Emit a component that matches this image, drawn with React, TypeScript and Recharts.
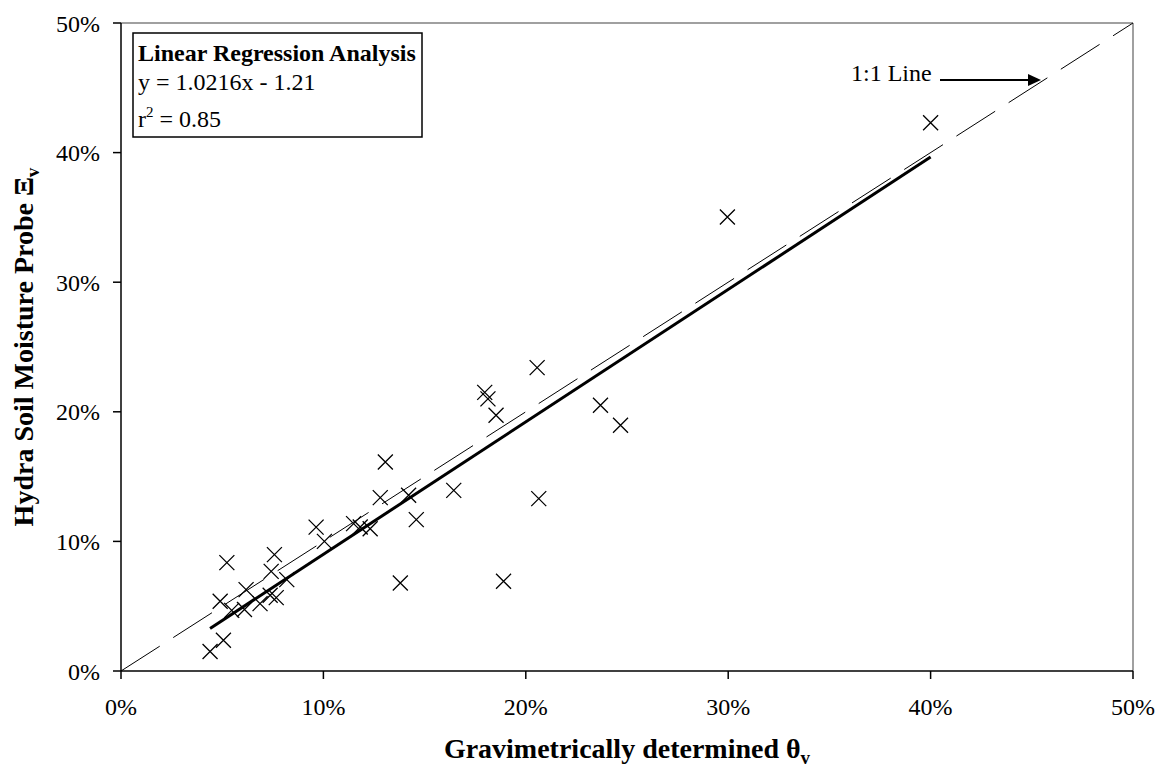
import React from 'react';
import { ScatterChart, Scatter, XAxis, YAxis, ReferenceLine } from 'recharts';

// gravimetric theta_v (%) vs Hydra probe reading (%)
const gravimetric = [
  4.4, 5.06, 4.9, 5.23, 5.47, 6.1, 6.18, 6.87, 7.37, 7.67, 7.42, 7.58, 8.19,
  9.64, 10.05, 11.49, 11.82, 12.31, 12.81, 13.06, 13.8, 14.21, 14.59, 16.44,
  17.97, 18.13, 18.53, 18.9, 20.56, 20.64, 23.69, 24.68, 29.96, 40.0,
];
const hydraProbe = [
  1.5, 2.37, 5.38, 8.36, 4.68, 4.74, 6.28, 5.2, 5.84, 5.66, 7.69, 8.98, 7.05,
  11.1, 10.0, 11.37, 11.11, 10.98, 13.38, 16.13, 6.79, 13.56, 11.68, 13.94,
  21.5, 21.0, 19.73, 6.92, 23.41, 13.3, 20.5, 18.96, 35.03, 42.3,
];
const axisTicks = [0, 10, 20, 30, 40, 50];

// regression from the text box
const fitSlope = 1.0216;
const fitIntercept = -1.21;
const fitRange = [4.4, 40];
const identityRange = [0, 50];

const points = gravimetric.map((x, i) => ({ x, y: hydraProbe[i] }));
const fitLine = fitRange.map((x) => ({ x, y: fitSlope * x + fitIntercept }));
const identityLine = identityRange.map((x) => ({ x, y: x }));

const serif = 'Liberation Serif, Times New Roman, serif';

const CrossMark = (props: any) => {
  const { cx, cy } = props;
  const s = 7.5;
  return (
    <path
      d={`M${cx - s},${cy - s}L${cx + s},${cy + s}M${cx - s},${cy + s}L${cx + s},${cy - s}`}
      stroke="#000"
      strokeWidth={1.3}
      fill="none"
    />
  );
};

const NoMark = () => <g />;

const XTitle = ({ viewBox }: any) => {
  const cx = viewBox.x + viewBox.width / 2;
  return (
    <text x={cx} y={viewBox.y + 87} textAnchor="middle" fontFamily={serif} fontSize={28} fontWeight="bold" fill="#000">
      Gravimetrically determined θ<tspan dy={6} fontSize={19}>v</tspan>
    </text>
  );
};

const YTitle = ({ viewBox }: any) => {
  const cx = viewBox.x + 33;
  const cy = viewBox.y + viewBox.height / 2;
  return (
    <text x={cx} y={cy} transform={`rotate(-90, ${cx}, ${cy})`} textAnchor="middle" fontFamily={serif} fontSize={28} fontWeight="bold" fill="#000">
      Hydra Soil Moisture Probe Ξ<tspan dy={6} fontSize={19}>v</tspan>
    </text>
  );
};

const tickStyle = { fill: '#000', fontSize: 24, fontFamily: serif };

export default function App() {
  return (
    <div style={{ position: 'absolute', left: 0, top: 0, width: 1160, height: 767, background: '#fff' }}>
      <ScatterChart width={1160} height={767} margin={{ top: 23, right: 27, left: 0, bottom: 0 }}>
        <XAxis
          type="number"
          dataKey="x"
          domain={[0, 50]}
          ticks={axisTicks}
          tickFormatter={(v) => `${v}%`}
          height={96}
          tickSize={8}
          tickMargin={19}
          tick={tickStyle}
          stroke="#000"
          strokeWidth={1.5}
          label={<XTitle />}
        />
        <YAxis
          type="number"
          dataKey="y"
          domain={[0, 50]}
          ticks={axisTicks}
          tickFormatter={(v) => `${v}%`}
          width={121}
          tickSize={8}
          tickMargin={13}
          tick={tickStyle}
          stroke="#000"
          strokeWidth={1.5}
          label={<YTitle />}
        />
        <ReferenceLine y={50} stroke="#808080" strokeWidth={1.5} />
        <ReferenceLine x={50} stroke="#808080" strokeWidth={1.5} />
        <Scatter
          data={identityLine}
          line={{ stroke: '#000', strokeWidth: 1, strokeDasharray: '46 16' }}
          shape={NoMark}
          isAnimationActive={false}
        />
        <Scatter
          data={fitLine}
          line={{ stroke: '#000', strokeWidth: 3 }}
          shape={NoMark}
          isAnimationActive={false}
        />
        <Scatter data={points} shape={CrossMark} isAnimationActive={false} />
      </ScatterChart>
      <svg width={1160} height={767} style={{ position: 'absolute', left: 0, top: 0, pointerEvents: 'none' }}>
        <rect x={133} y={33} width={289} height={104} fill="#fff" stroke="#000" strokeWidth={1.5} />
        <text x={138} y={60.5} fontFamily={serif} fontSize={24} fontWeight="bold" fill="#000">
          Linear Regression Analysis
        </text>
        <text x={138} y={90} fontFamily={serif} fontSize={24} fill="#000">
          y = 1.0216x - 1.21
        </text>
        <text x={138} y={126.5} fontFamily={serif} fontSize={24} fill="#000">
          r<tspan dy={-10} fontSize={15}>2</tspan>
          <tspan dy={10}> = 0.85</tspan>
        </text>
        <text x={851} y={81} fontFamily={serif} fontSize={24} fill="#000">
          1:1 Line
        </text>
        <line x1={940} y1={80} x2={1029} y2={80} stroke="#000" strokeWidth={1.8} />
        <polygon points="1028,74 1041,80 1028,86" fill="#000" />
      </svg>
    </div>
  );
}
